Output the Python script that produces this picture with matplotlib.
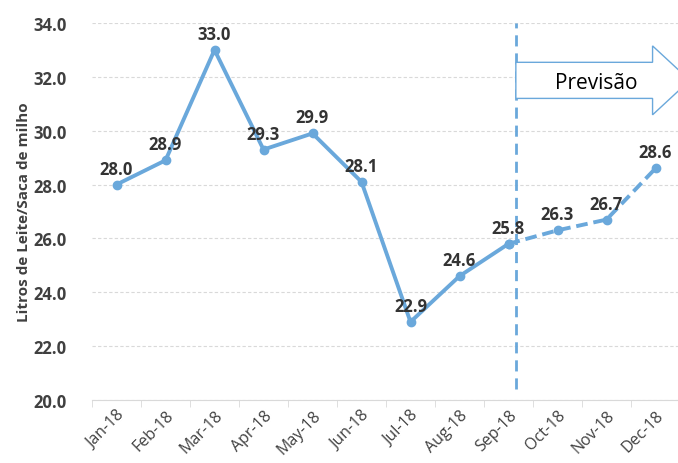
import numpy as np
import matplotlib.pyplot as plt
from matplotlib.patches import FancyArrow

# dados
meses = ["Jan-18", "Feb-18", "Mar-18", "Apr-18", "May-18", "Jun-18",
         "Jul-18", "Aug-18", "Sep-18", "Oct-18", "Nov-18", "Dec-18"]
observado = [28.0, 28.9, 33.0, 29.3, 29.9, 28.1, 22.9, 24.6, 25.8]
previsto = [25.8, 26.3, 26.7, 28.6]
rotulos = [28.0, 28.9, 33.0, 29.3, 29.9, 28.1, 22.9, 24.6, 25.8, 26.3, 26.7, 28.6]

cor = "#6AA8DB"
plt.rcParams["font.family"] = ["Open Sans", "DejaVu Sans"]

fig = plt.figure(figsize=(6.78, 4.64), dpi=100)
ax = fig.add_axes([92 / 678, 1 - 401 / 464, 588 / 678, 377 / 464])

x_obs = np.arange(len(observado))
x_prev = np.arange(len(observado) - 1, len(meses))

ax.plot(x_obs, observado, color=cor, lw=2.8, marker="o", ms=6, zorder=3)
ax.plot(x_prev, previsto, color=cor, lw=2.8, ls=(0, (3, 1.5)), marker="o",
        ms=6, zorder=3)

for i, v in enumerate(rotulos):
    ax.annotate(f"{v:.1f}", (i, v), xytext=(0, 5), textcoords="offset points",
                ha="center", va="bottom", fontsize=12, fontweight="bold",
                color="#333333")

ax.set_xlim(-0.5, 11.5)
ax.set_ylim(20, 34)
ax.set_yticks(np.arange(20, 34.1, 2))
ax.set_yticklabels([f"{t:.1f}" for t in np.arange(20, 34.1, 2)],
                   fontsize=12, fontweight="bold", color="#404040")
ax.set_xticks(np.arange(len(meses)))
ax.set_xticklabels(meses, rotation=45, ha="right", rotation_mode="anchor",
                   fontsize=11.5, color="#404040")
ax.set_xticks(np.arange(-0.5, 12, 1), minor=True)
ax.tick_params(axis="x", which="major", length=0, pad=5)
ax.tick_params(axis="x", which="minor", length=5, color="#d9d9d9")
ax.tick_params(axis="y", length=0, pad=18)

ax.set_ylabel("Litros de Leite/Saca de milho", fontsize=11,
              fontweight="bold", color="#404040", labelpad=2)

ax.grid(axis="y", color="#d9d9d9", ls=(0, (3, 2)), lw=0.8)
for s in ["top", "right", "left"]:
    ax.spines[s].set_visible(False)
ax.spines["bottom"].set_color("#d9d9d9")

# linha vertical da previsão
ax.plot([8.15, 8.15], [20.4, 34.0], color=cor, lw=2, ls=(0, (4, 2.5)),
        clip_on=False, zorder=2)

# seta "Previsão"
seta = FancyArrow(8.15, 31.87, 3.55, 0, width=1.34, head_width=2.56,
                  head_length=0.76, length_includes_head=True,
                  facecolor="white", edgecolor=cor, lw=1, clip_on=False,
                  zorder=4)
ax.add_patch(seta)
ax.text(9.8, 31.8, "Previsão", ha="center", va="center", fontsize=15,
        color="black", zorder=5)

fig.savefig("out.png", dpi=100)
